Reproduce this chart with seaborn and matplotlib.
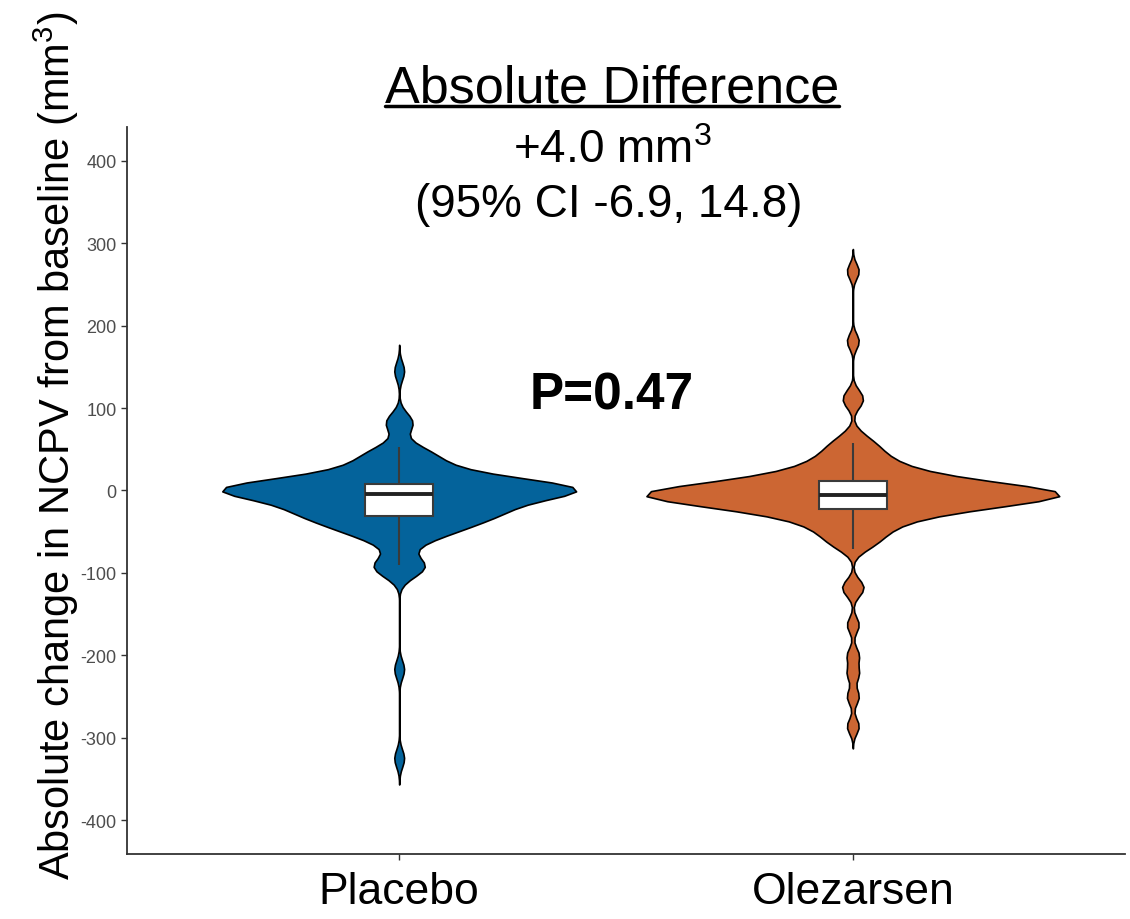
import numpy as np
import pandas as pd
import matplotlib
matplotlib.use("Agg")
import matplotlib.pyplot as plt
from matplotlib.lines import Line2D
import seaborn as sns

groups = ["Placebo", "Olezarsen"]
colors = ["#04639B", "#CC6633"]

placebo = [145, 88, 82, 76,
           53, 50, 46, 43, 40, 37, 34, 31, 28, 26, 24, 22, 20, 18, 16, 15, 14, 13, 12, 10, 9,
           8, 8, 7, 7, 6, 6, 5, 5, 4, 4, 3, 3, 2, 2, 1, 1, 0, 0, -1, -1, -2, -2, -3, -4, -4,
           -5, -5, -6, -7, -8, -9, -10, -11, -12, -14, -15, -16, -18, -19, -20, -21, -22,
           -23, -24, -25, -26, -27, -28, -30, -31,
           -32, -33, -35, -36, -37, -39, -42, -43, -45, -46, -48, -50, -52, -55, -58, -63,
           -68,
           -84, -88, -90, -94, -97, -103, -217, -325]

olezarsen = [266, 181, 116, 106, 68,
             58, 55, 50, 45, 41, 38, 35, 32, 29, 27, 25, 23, 21, 19, 17, 16, 15, 14, 13, 12,
             11, 10, 9, 8, 7, 6, 5, 5, 4, 3, 2, 2, 1, 0, 0, -1, -1, -2, -2, -3, -3, -4, -4,
             -5, -5,
             -6, -6, -7, -7, -8, -8, -9, -9, -10, -10, -11, -11, -12, -13, -14, -15, -16,
             -17, -18, -19, -20, -21, -21, -22, -22,
             -23, -24, -26, -27, -29, -31, -33, -35, -37, -39, -42, -45, -48, -52, -56, -60,
             -65, -71,
             -114, -122, -163, -200, -222, -250, -286]

violin_widths = [0.78, 0.91]
yticks = [-400, -300, -200, -100, 0, 100, 200, 300, 400]

df = pd.DataFrame({
    "group": ["Placebo"] * len(placebo) + ["Olezarsen"] * len(olezarsen),
    "value": placebo + olezarsen,
})

sns.set_theme(style="ticks")
plt.rcParams["font.family"] = ["Liberation Sans", "DejaVu Sans"]
plt.rcParams["mathtext.fontset"] = "custom"
plt.rcParams["mathtext.rm"] = "Liberation Sans"
plt.rcParams["axes.unicode_minus"] = False
plt.rcParams["text.color"] = "black"
plt.rcParams["axes.labelcolor"] = "black"

fig = plt.figure(figsize=(11.3, 9.2), dpi=100)
ax = fig.add_axes([0.1124, 0.0707, 0.8832, 0.7902])


def nrd0_factor(vals):
    # R's bw.nrd0 expressed as a scipy gaussian_kde factor
    v = np.asarray(vals, dtype=float)
    sd = v.std(ddof=1)
    iqr = np.subtract(*np.percentile(v, [75, 25]))
    bw = 0.9 * min(sd, iqr / 1.34) * len(v) ** -0.2
    return bw / sd


for g, c, w in zip(groups, colors, violin_widths):
    sub = df[df["group"] == g]
    sns.violinplot(data=sub, x="group", y="value", order=groups, ax=ax,
                   color=c, saturation=1, width=w, density_norm="width",
                   cut=3, bw_method=nrd0_factor(sub["value"]), inner=None,
                   linewidth=1.2, linecolor="black")

sns.boxplot(data=df, x="group", y="value", order=groups, ax=ax,
            width=0.15, color="white", saturation=1, linecolor="#3a3a3a",
            linewidth=1.5, showfliers=False,
            medianprops={"color": "#222222", "linewidth": 2.8},
            capprops={"linewidth": 0})

ax.set_xlim(-0.6, 1.6)
ax.set_ylim(-441, 441)
ax.set_yticks(yticks)
ax.set_xlabel("")
ax.set_ylabel("Absolute change in NCPV from baseline (mm$^{3}$)", fontsize=30)
ax.yaxis.set_label_coords(-0.046, 0.563)
ax.tick_params(axis="y", labelsize=13, labelcolor="#4D4D4D", length=4,
               color="#333333", width=1)
ax.tick_params(axis="x", labelsize=32, labelcolor="black", length=4,
               color="#333333", width=1, pad=8)
sns.despine(ax=ax)
for s in ["left", "bottom"]:
    ax.spines[s].set_color("#333333")
    ax.spines[s].set_linewidth(1.3)

title = fig.text(0.5416, 0.889, "Absolute Difference", ha="center",
                 va="baseline", fontsize=37.5)
fig.text(0.5416, 0.823, "+4.0 mm$^{3}$", ha="center", va="baseline", fontsize=33)
fig.text(0.5385, 0.764, "(95% CI -6.9, 14.8)", ha="center", va="baseline",
         fontsize=33)
fig.text(0.5416, 0.555, "P=0.47", ha="center", va="baseline", fontsize=37,
         fontweight="bold")

fig.canvas.draw()
bb = title.get_window_extent()
fig.add_artist(Line2D([bb.x0, bb.x1], [bb.y0 + 6, bb.y0 + 6], transform=None,
                      color="black", linewidth=2.5))

fig.savefig("out.png", dpi=100)
